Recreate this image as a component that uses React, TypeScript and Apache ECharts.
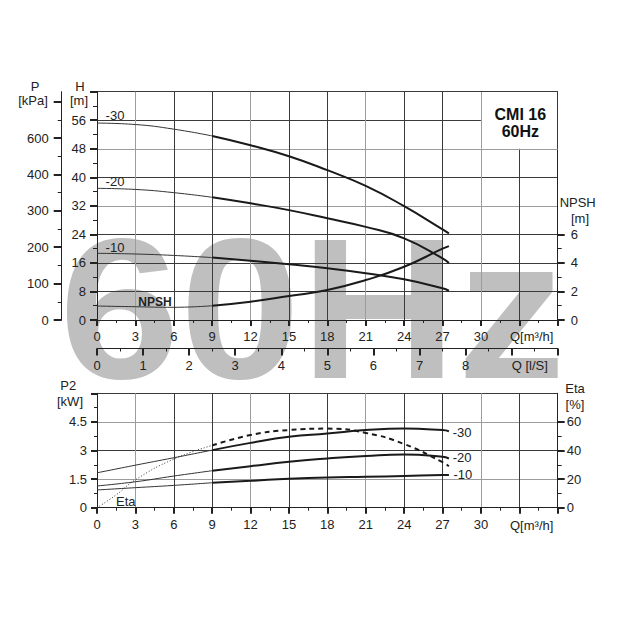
import React, { useEffect, useRef } from 'react';
import * as echarts from 'echarts';

const FONT = '"Liberation Sans", Arial, Helvetica, sans-serif';

// Flow points (m³/h) at which the pump curves were read
const flowPoints = [0, 3, 6, 9, 12, 15, 18, 21, 24, 27, 27.5];
// Head H [m] for the three pump sizes
const head30 = [55.2, 54.8, 53.5, 51.6, 49.0, 45.9, 42.0, 37.6, 31.9, 25.4, 24.3];
const head20 = [36.9, 36.6, 35.7, 34.4, 32.7, 30.8, 28.5, 26.1, 22.9, 17.3, 16.0];
const head10 = [18.7, 18.5, 18.1, 17.5, 16.6, 15.6, 14.5, 13.1, 11.4, 8.9, 8.2];
// NPSH [m]
const npshCurve = [0.98, 0.93, 0.89, 1.0, 1.28, 1.68, 2.1, 2.8, 3.73, 5.0, 5.18];
// P2 [kW]
const power30 = [1.83, 2.23, 2.62, 3.02, 3.4, 3.72, 3.89, 4.07, 4.15, 4.07, 4.01];
const power20 = [1.14, 1.36, 1.66, 1.94, 2.18, 2.41, 2.58, 2.71, 2.79, 2.67, 2.58];
const power10 = [0.93, 1.05, 1.17, 1.31, 1.41, 1.52, 1.59, 1.62, 1.66, 1.71, 1.71];
// Efficiency Eta [%]
const etaFlow = [0, 1.5, 3, 6, 9, 12, 15, 18, 21, 24, 27, 27.5];
const etaCurve = [0, 9, 19.5, 34, 43.5, 50.8, 54.3, 55.3, 52.3, 44.5, 31.8, 29];
const thickFrom = 3; // curves are drawn thick from Q = 9 on
const etaDashFrom = 4;

const stageNames = ['-30', '-20', '-10'];

// Tick labels
const flowTickLabels = ['0', '3', '6', '9', '12', '15', '18', '21', '24', '27', '30'];
const litreTickLabels = ['0', '1', '2', '3', '4', '5', '6', '7', '8'];
const headTickLabels = ['0', '8', '16', '24', '32', '40', '48', '56'];
const pressureTickValues = [0, 100, 200, 300, 400, 500, 600];
const pressureTickLabels = ['0', '100', '200', '300', '400', '600', ''];
const pressureMinorValues = [50, 150, 250, 350, 450, 550];
const npshTickValues = [0, 2, 4, 6];
const npshMinorValues = [1, 3, 5];
const powerTickLabels = ['0', '1.5', '3', '4.5', ''];
const etaTickValues = [0, 20, 40, 60];
const etaMinorValues = [10, 30, 50];

const DARK = '#3a3a3a';
const GRAY = '#9c9c9c';
const INK = '#1a1a1a';

const pts = (xs: number[], ys: number[], a: number, b: number) =>
  xs.slice(a, b).map((x, i) => [x, ys[a + i]]);

export default function App() {
  const ref = useRef<HTMLDivElement>(null);

  useEffect(() => {
    if (!ref.current) return;
    const chart = echarts.init(ref.current, undefined, { renderer: 'svg' });

    const labelFont = { fontFamily: FONT, fontSize: 13, color: '#222' };
    const axisLineStyle = { color: '#222', width: 1 };
    const vColors = Array.from({ length: 13 }, (_, i) => (i % 3 === 1 ? GRAY : DARK));
    const hColors = [DARK, DARK, DARK, DARK, GRAY, DARK, GRAY, DARK, DARK];
    const pColors = [DARK, GRAY, DARK, GRAY, DARK];

    const flowAxis = (gridIndex: number) => ({
      type: 'value',
      gridIndex,
      min: 0,
      max: 36,
      interval: 3,
      position: 'bottom',
      axisLine: { show: true, onZero: false, lineStyle: axisLineStyle },
      axisTick: { show: true, length: 6, lineStyle: { color: '#222', width: 2 } },
      minorTick: { show: true, splitNumber: 2, length: 3, lineStyle: { color: '#222', width: 1 } },
      axisLabel: {
        ...labelFont,
        margin: 10,
        formatter: (v: number) => flowTickLabels[Math.round(v / 3)] ?? '',
      },
      splitLine: { show: true, lineStyle: { color: vColors, width: 1 } },
    });

    const customAxis = (
      gridIndex: number,
      position: string,
      max: number,
      values: number[],
      len: number,
      showLine: boolean,
      labels: boolean,
      offset = 0,
      formatter?: (v: number) => string,
      margin = 10
    ) => ({
      type: 'value',
      gridIndex,
      min: 0,
      max,
      position,
      offset,
      axisLine: { show: showLine, onZero: false, lineStyle: axisLineStyle },
      axisTick: {
        show: true,
        customValues: values,
        length: len,
        lineStyle: { color: '#222', width: len > 5 ? 2 : 1 },
      },
      axisLabel: labels
        ? { show: true, customValues: values, ...labelFont, margin, formatter }
        : { show: false },
      splitLine: { show: false },
    });

    const curve = (
      data: number[][],
      xi: number,
      yi: number,
      width: number,
      type: any = 'solid',
      z = 3
    ) => ({
      type: 'line',
      data,
      xAxisIndex: xi,
      yAxisIndex: yi,
      smooth: true,
      symbol: 'none',
      silent: true,
      z,
      lineStyle: { color: width > 1.2 ? INK : '#333', width, type },
    });

    const heads = [head30, head20, head10];
    const powers = [power30, power20, power10];
    const n = flowPoints.length;

    const series: any[] = [];
    heads.forEach((h) => {
      series.push(curve(pts(flowPoints, h, 0, thickFrom + 1), 0, 0, 1));
      series.push(curve(pts(flowPoints, h, thickFrom, n), 0, 0, 2));
    });
    series.push(curve(pts(flowPoints, npshCurve, 0, thickFrom + 1), 0, 2, 1));
    series.push(curve(pts(flowPoints, npshCurve, thickFrom, n), 0, 2, 2));
    powers.forEach((p) => {
      series.push(curve(pts(flowPoints, p, 0, thickFrom + 1), 2, 4, 1));
      series.push(curve(pts(flowPoints, p, thickFrom, n), 2, 4, 2));
    });
    series.push(curve(pts(etaFlow, etaCurve, 0, etaDashFrom + 1), 2, 5, 1, [1, 2]));
    series.push(curve(pts(etaFlow, etaCurve, etaDashFrom, etaFlow.length), 2, 5, 2, [5, 4]));

    // white title box in the top right corner of the upper chart
    series.push({
      type: 'line',
      data: [],
      xAxisIndex: 0,
      yAxisIndex: 0,
      z: 1,
      silent: true,
      markArea: {
        silent: true,
        itemStyle: { color: '#ffffff', borderWidth: 0 },
        label: {
          show: true,
          position: 'inside',
          formatter: 'CMI 16\n60Hz',
          fontFamily: FONT,
          fontWeight: 'bold',
          fontSize: 16,
          lineHeight: 17,
          color: '#111',
          offset: [1, 3],
        },
        data: [[{ coord: [30, 48] }, { coord: [36, 64] }]],
      },
    });
    series.push({
      type: 'line',
      data: [],
      xAxisIndex: 0,
      yAxisIndex: 0,
      z: 2,
      silent: true,
      markLine: {
        silent: true,
        symbol: 'none',
        label: { show: false },
        lineStyle: { type: 'solid', width: 1 },
        data: [
          [{ coord: [30, 48], lineStyle: { color: GRAY } }, { coord: [30, 64] }],
          [{ coord: [30, 48], lineStyle: { color: GRAY } }, { coord: [36, 48] }],
          [{ coord: [30, 64], lineStyle: { color: DARK } }, { coord: [36, 64] }],
          [{ coord: [36, 48], lineStyle: { color: DARK } }, { coord: [36, 64] }],
        ],
      },
    });

    const txt = (
      text: string,
      x: number,
      y: number,
      align = 'center',
      opts: any = {}
    ) => ({
      type: 'text',
      x,
      y,
      silent: true,
      z: 5,
      style: {
        text,
        fill: '#222',
        font: `${opts.weight || 'normal'} ${opts.size || 13}px ${FONT}`,
        align,
        verticalAlign: 'middle',
      },
    });

    const option: any = {
      animation: false,
      backgroundColor: 'transparent',
      grid: [
        { left: 97, top: 91.7, width: 460.7, height: 228.3, outerBoundsMode: 'none', containLabel: false },
        { left: 97, top: 393.3, width: 460.7, height: 114.4, outerBoundsMode: 'none', containLabel: false },
      ],
      xAxis: [
        flowAxis(0),
        {
          type: 'value',
          gridIndex: 0,
          min: 0,
          max: 10,
          interval: 1,
          position: 'bottom',
          offset: 28.5,
          axisLine: { show: true, onZero: false, lineStyle: axisLineStyle },
          axisTick: { show: true, length: 7, lineStyle: { color: '#222', width: 2 } },
          minorTick: { show: true, splitNumber: 2, length: 3, lineStyle: { color: '#222', width: 1 } },
          axisLabel: {
            ...labelFont,
            margin: 10,
            formatter: (v: number) => litreTickLabels[Math.round(v)] ?? '',
          },
          splitLine: { show: false },
        },
        flowAxis(1),
      ],
      yAxis: [
        {
          type: 'value',
          gridIndex: 0,
          min: 0,
          max: 64,
          interval: 8,
          position: 'left',
          axisLine: { show: true, onZero: false, lineStyle: axisLineStyle },
          axisTick: { show: true, length: 7, lineStyle: { color: '#222', width: 2 } },
          minorTick: { show: true, splitNumber: 2, length: 4, lineStyle: { color: '#222', width: 1 } },
          axisLabel: {
            ...labelFont,
            margin: 11,
            formatter: (v: number) => headTickLabels[Math.round(v / 8)] ?? '',
          },
          splitLine: { show: true, lineStyle: { color: hColors, width: 1 } },
        },
        customAxis(0, 'left', 627.5, pressureTickValues, 8, true, true, 35.3,
          (v: number) => pressureTickLabels[Math.round(v / 100)] ?? '', 13),
        customAxis(0, 'right', 16, npshTickValues, 7, true, true, 0, undefined, 13),
        customAxis(0, 'right', 16, npshMinorValues, 4, false, false),
        {
          type: 'value',
          gridIndex: 1,
          min: 0,
          max: 6,
          interval: 1.5,
          position: 'left',
          axisLine: { show: true, onZero: false, lineStyle: axisLineStyle },
          axisTick: { show: true, length: 6, lineStyle: { color: '#222', width: 2 } },
          minorTick: { show: true, splitNumber: 2, length: 3, lineStyle: { color: '#222', width: 1 } },
          axisLabel: {
            ...labelFont,
            margin: 10,
            formatter: (v: number) => powerTickLabels[Math.round(v / 1.5)] ?? '',
          },
          splitLine: { show: true, lineStyle: { color: pColors, width: 1 } },
        },
        customAxis(1, 'right', 80, etaTickValues, 7, true, true, 0, undefined, 9),
        customAxis(1, 'right', 80, etaMinorValues, 4, false, false),
        customAxis(0, 'left', 627.5, pressureMinorValues, 4, false, false, 35.3),
      ],
      series,
      graphic: [
        {
          type: 'text',
          x: 59,
          y: 308.8,
          scaleX: 1.085,
          z: -10,
          silent: true,
          style: {
            text: '60Hz',
            fill: '#bfbfbf',
            font: `bold 200px ${FONT}`,
            align: 'left',
            verticalAlign: 'middle',
          },
        },
        txt('P', 35, 86.7),
        txt('[kPa]', 33, 100.7),
        txt('H', 80, 86.7),
        txt('[m]', 79, 100.7),
        txt('NPSH', 577.7, 202.5),
        txt('[m]', 580, 218.5),
        txt('Q[m³/h]', 510, 336.7, 'left'),
        txt('Q [l/S]', 511.7, 365.7, 'left'),
        txt('P2', 68.3, 385),
        txt('[kW]', 70, 401.7),
        txt('Eta', 575, 388),
        txt('[%]', 575, 404),
        txt('Q[m³/h]', 510, 525, 'left'),
        txt(stageNames[0], 115, 115),
        txt(stageNames[1], 115, 181.7),
        txt(stageNames[2], 115, 247),
        txt('NPSH', 155, 301.7, 'center', { weight: 'bold', size: 12 }),
        txt(stageNames[0], 452.7, 432.3, 'left'),
        txt(stageNames[1], 452.7, 457.3, 'left'),
        txt(stageNames[2], 453.5, 474.3, 'left'),
        txt('Eta', 116, 501.7, 'left'),
      ],
    };

    chart.setOption(option);
    return () => chart.dispose();
  }, []);

  return (
    <div
      ref={ref}
      style={{ position: 'absolute', left: 0, top: 0, width: 620, height: 620, background: '#fff' }}
    />
  );
}
